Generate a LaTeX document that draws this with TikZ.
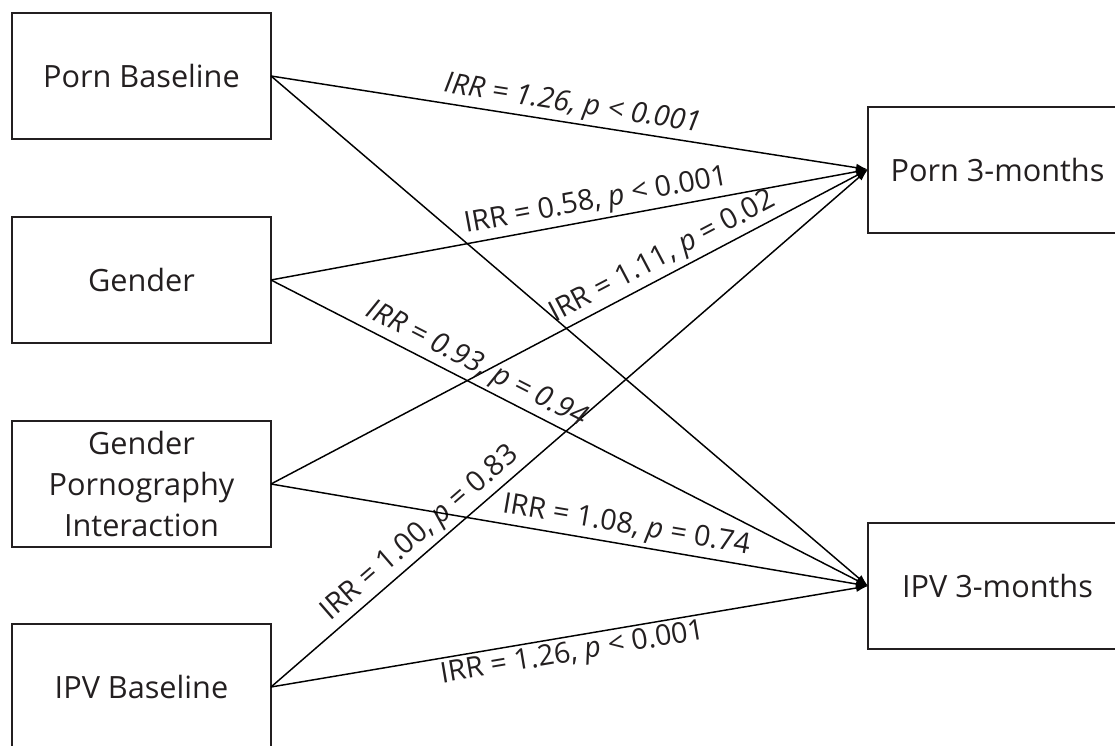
\documentclass[tikz,border=0pt]{standalone}
\usepackage{fontspec}
\setmainfont{Open Sans}
\usetikzlibrary{arrows.meta}

\tikzset{every picture/.style={line width=0.75pt}}
\tikzset{
  varbox/.style={draw={rgb,255:red,35;green,31;blue,32}, line width=1.5pt, outer sep=0pt,
    minimum width=194.25pt, minimum height=94.5pt, align=center, inner sep=0pt,
    text={rgb,255:red,35;green,31;blue,32}, font=\fontsize{23}{30.5}\selectfont},
  path/.style={line width=1.1pt, -{Latex[length=9pt,width=6pt]}},
  irr/.style={sloped, inner sep=2.5pt, text={rgb,255:red,35;green,31;blue,32},
    font=\fontsize{21.5}{26}\selectfont}
}

\begin{document}
\begin{tikzpicture}[x=0.75pt,y=0.75pt]
\useasboundingbox (0,0) rectangle (1115,-746);
\clip (0,0) rectangle (1115,-746);

%Shape: Rectangle [id:pornbase]
\node[varbox] (pornbase) at (141.5,-76) {Porn Baseline};
%Shape: Rectangle [id:gender]
\node[varbox] (gender) at (141.5,-280) {Gender};
%Shape: Rectangle [id:interact]
\node[varbox] (interact) at (141.5,-484) {Gender\\Pornography\\Interaction};
%Shape: Rectangle [id:ipvbase]
\node[varbox] (ipvbase) at (141.5,-687) {IPV Baseline};
%Shape: Rectangle [id:porn3m]
\node[varbox] (porn3m) at (997.5,-169.5) {Porn 3-months};
%Shape: Rectangle [id:ipv3m]
\node[varbox] (ipv3m) at (997.5,-586) {IPV 3-months};

%Straight Lines to Porn 3-months
\draw[path] (pornbase.east) -- node[irr, above, pos=0.5] {\itshape IRR = 1.26, p < 0.001} (porn3m.west);
\draw[path] (gender.east) -- node[irr, above, pos=0.55] {IRR = 0.58, \textit{p} < 0.001} (porn3m.west);
\draw[path] (interact.east) -- node[irr, above, pos=0.67] {IRR = 1.11, \textit{p} = 0.02} (porn3m.west);
\draw[path] (ipvbase.east) -- node[irr, above, pos=0.27] {IRR = 1.00, \textit{p} = 0.83} (porn3m.west);

%Straight Lines to IPV 3-months
\draw[path] (pornbase.east) -- (ipv3m.west);
\draw[path] (gender.east) -- node[irr, above, pos=0.33] {\itshape IRR = 0.93, p = 0.94} (ipv3m.west);
\draw[path] (interact.east) -- node[irr, above, pos=0.59] {IRR = 1.08, \textit{p} = 0.74} (ipv3m.west);
\draw[path] (ipvbase.east) -- node[irr, below, pos=0.5] {IRR = 1.26, \textit{p} < 0.001} (ipv3m.west);

\end{tikzpicture}
\end{document}
